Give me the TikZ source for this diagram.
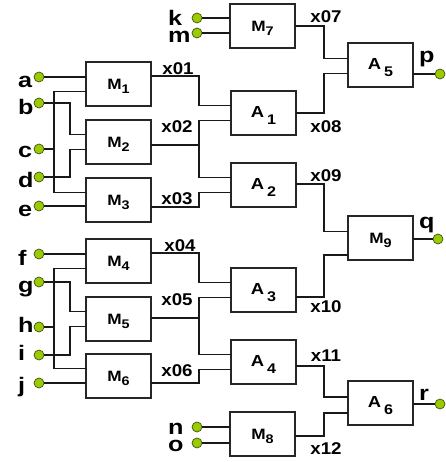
\documentclass[tikz,border=0pt]{standalone}
\usepackage{fontspec}
\setmainfont{Liberation Sans}
\usetikzlibrary{calc}

\definecolor{dotgreen}{RGB}{153,204,0}
\definecolor{dotrim}{RGB}{70,80,30}

% slightly widened bold lettering
\newcommand\wide[2][1.15]{\scalebox{#1}[1]{#2}}
\newcommand\pinfont{\fontsize{21}{21}\selectfont\bfseries}
\newcommand\sigfont{\fontsize{17}{17}\selectfont\bfseries}
\newcommand\Mg[1]{\wide{\fontsize{15}{15}\selectfont\bfseries M\raisebox{-4.5pt}{\fontsize{12.5}{12.5}\selectfont #1}}}
\newcommand\Ag[1]{\wide{\fontsize{16}{16}\selectfont\bfseries A\hspace{2.5pt}\raisebox{-6.5pt}{\fontsize{14}{14}\selectfont #1}}}

% gate box: name, left, top, label, input offsets, output offset
\newcommand\gateat[7]{%
  \node[gate] (#1) at (#2,#3) {};
  \node[glabel] (#1-t) at ([yshift=-2.5pt]#1.center) {#4};
  \coordinate (#1-i1) at ([yshift=-#5pt]#1.north west);
  \coordinate (#1-i2) at ([yshift=-#6pt]#1.north west);
  \coordinate (#1-o) at ([yshift=-#7pt]#1.north east);
}

\begin{document}
\begin{tikzpicture}[x=1pt,y=-1pt,
  wire/.style={line width=1.1pt, black!90},
  gate/.style={draw=black!85, line width=1.2pt, minimum width=65pt,
    minimum height=44pt, inner sep=0pt, outer sep=0pt, anchor=north west},
  glabel/.style={inner sep=0pt},
  dot/.style={circle, fill=dotgreen, draw=dotrim, line width=0.7pt,
    minimum size=10pt, inner sep=0pt},
  pinlab/.style={anchor=base west, inner sep=0pt, font=\pinfont},
  sig/.style={inner sep=0pt, font=\sigfont}]
\useasboundingbox (0,0) rectangle (445,462);

% ---- gates ----
\gateat{M1}{86}{62}{\Mg{1}}{14.7}{29.3}{14}
\gateat{M2}{86}{120}{\Mg{2}}{14.7}{29.3}{25}
\gateat{M3}{86}{178}{\Mg{3}}{14.7}{29.3}{29}
\gateat{M4}{86}{239}{\Mg{4}}{14.7}{29.3}{14}
\gateat{M5}{86}{297}{\Mg{5}}{14.7}{29.3}{21}
\gateat{M6}{86}{354}{\Mg{6}}{14.7}{29.3}{29}
\gateat{M7}{230}{4}{\Mg{7}}{14.7}{29.3}{22}
\gateat{M8}{230}{412}{\Mg{8}}{14.7}{29.3}{24}
\gateat{A1}{231}{91}{\Ag{1}}{14.7}{29.3}{22}
\gateat{A2}{231}{163}{\Ag{2}}{14.7}{29.3}{21}
\gateat{A3}{231}{268}{\Ag{3}}{14.7}{29.3}{29}
\gateat{A4}{231}{340}{\Ag{4}}{14.7}{29.3}{26}
\gateat{A5}{348}{43}{\Ag{5}}{15.5}{30.5}{31}
\gateat{M9}{348}{216}{\Mg{9}}{15.5}{39}{23}
\gateat{A6}{348}{381}{\Ag{6}}{16}{32}{23}

% ---- input pins ----
\foreach \n/\y/\b in {a/77/88, b/103/115, c/149/158, d/177/187, e/206/216,
                      f/254/265, g/282/292, h/327/332, i/355/360, j/383/392}{
  \node[dot] (\n) at (39,\y) {};
  \node[pinlab] (\n-l) at (18,\b) {\wide[1.2]{\n}};
}
\foreach \n/\y/\b in {k/18/25.5, m/33/43, n/427/434.5, o/443/451}{
  \node[dot] (\n) at (197,\y) {};
  \node[pinlab] (\n-l) at (168,\b) {\wide[1.2]{\n}};
}

% ---- output pins ----
\node[dot] (p) at (440,74) {};
\node[dot] (q) at (438,239) {};
\node[dot] (r) at (440,404) {};
\node[pinlab] (p-l) at (419,63) {\wide[1.2]{p}};
\node[pinlab] (q-l) at (419,228) {\wide[1.2]{q}};
\node[pinlab] (r-l) at (419,400) {\wide[1.2]{r}};

% routing columns
\coordinate (busC) at (54,0);
\coordinate (busB) at (70,0);
\coordinate (colL) at (199,0);
\coordinate (colR) at (324,0);

% ---- input wiring ----
\draw[wire] (a) -- (a -| M1.west);
\draw[wire] (b) -| (busB |- M2-i1) -- (M2-i1);
\draw[wire] (c) -- (c -| busC);
\draw[wire] (M1-i2) -- (busC |- M1-i2) -- (busC |- M3-i1) -- (M3-i1);
\draw[wire] (d) -| (busB |- M2-i2) -- (M2-i2);
\draw[wire] (e) -- (e -| M3.west);

\draw[wire] (f) -- (f -| M4.west);
\draw[wire] (g) -| (busB |- M5-i1) -- (M5-i1);
\draw[wire] (h) -- (h -| busC);
\draw[wire] (M4-i2) -- (busC |- M4-i2) -- (busC |- M6-i1) -- (M6-i1);
\draw[wire] (i) -| (busB |- M5-i2) -- (M5-i2);
\draw[wire] (j) -- (j -| M6.west);

\draw[wire] (k) -- (k -| M7.west);
\draw[wire] (m) -- (m -| M7.west);
\draw[wire] (n) -- (n -| M8.west);
\draw[wire] (o) -- (o -| M8.west);

% ---- first level to second level ----
\draw[wire] (M1-o) -| (colL |- A1-i1) -- (A1-i1);
\draw[wire] (M2-o) -- (colL |- M2-o);
\draw[wire] (A1-i2) -- (colL |- A1-i2) -- (colL |- A2-i1) -- (A2-i1);
\draw[wire] (M3-o) -| (colL |- A2-i2) -- (A2-i2);

\draw[wire] (M4-o) -| (colL |- A3-i1) -- (A3-i1);
\draw[wire] (M5-o) -- (colL |- M5-o);
\draw[wire] (A3-i2) -- (colL |- A3-i2) -- (colL |- A4-i1) -- (A4-i1);
\draw[wire] (M6-o) -| (colL |- A4-i2) -- (A4-i2);

% ---- second level to outputs ----
\draw[wire] (M7-o) -| (colR |- A5-i1) -- (A5-i1);
\draw[wire] (A1-o) -| (colR |- A5-i2) -- (A5-i2);
\draw[wire] (A2-o) -| (colR |- M9-i1) -- (M9-i1);
\draw[wire] (A3-o) -| (colR |- M9-i2) -- (M9-i2);
\draw[wire] (A4-o) -| (colR |- A6-i1) -- (A6-i1);
\draw[wire] (M8-o) -| (colR |- A6-i2) -- (A6-i2);

\draw[wire] (A5-o) -- (p);
\draw[wire] (M9-o) -- (q);
\draw[wire] (A6-o) -- (r);

% ---- signal names ----
\foreach \t/\x/\y in {01/178/69, 02/177/127, 03/177/199, 04/180/246,
                      05/177/300, 06/177/371, 07/326/17, 08/326/127,
                      09/326/176, 10/326/307, 11/326/356, 12/326/449}{
  \node[sig] (x\t) at (\x,\y) {\wide[1.1]{x\t}};
}
\end{tikzpicture}
\end{document}
